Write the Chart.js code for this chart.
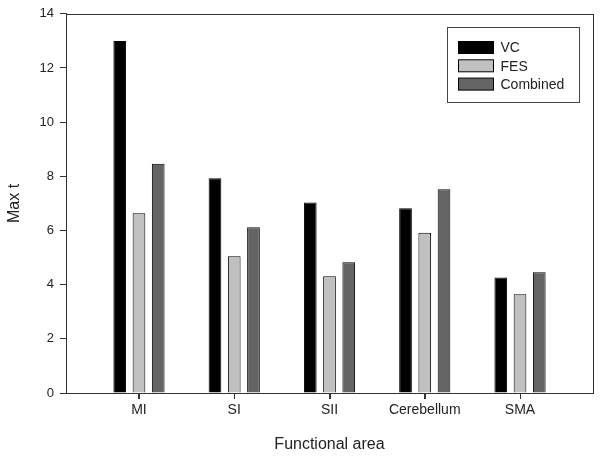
<!DOCTYPE html>
<html>
<head>
<meta charset="utf-8">
<script src="https://cdn.jsdelivr.net/npm/chart.js@4/dist/chart.umd.min.js"></script>
<style>
  html, body { margin: 0; padding: 0; background: #fff; }
  #wrap { width: 600px; height: 457px; }
</style>
</head>
<body>
<div id="wrap"><canvas id="chart" width="600" height="457"></canvas></div>
<script>
const categories = ["MI", "SI", "SII", "Cerebellum", "SMA"]
const vcValues = [13.0, 7.93, 7.03, 6.82, 4.26]
const fesValues = [6.64, 5.05, 4.31, 5.92, 3.65]
const combinedValues = [8.46, 6.12, 4.83, 7.52, 4.46]
const yTicks = [0, 2, 4, 6, 8, 10, 12, 14]

const FONT = "'Liberation Sans', Arial, sans-serif"
const INK = "#222"
const AXIS = "#333"

function points(values) {
    return values.map((v, i) => ({ x: i + 1, y: v }))
}

// box round the plot area, x tick marks, legend in the top right corner
const framePlugin = {
    id: "frame",
    afterDraw(chart) {
        const { ctx, chartArea: a } = chart
        ctx.save()
        ctx.strokeStyle = AXIS
        ctx.lineWidth = 1
        ctx.strokeRect(Math.round(a.left) + 0.5, Math.round(a.top) + 0.5,
            Math.round(a.right - a.left), Math.round(a.bottom - a.top))

        const xs = chart.scales.x
        ctx.beginPath()
        xs.ticks.forEach((t, i) => {
            const px = Math.round(xs.getPixelForTick(i)) + 0.5
            ctx.moveTo(px, Math.round(a.bottom))
            ctx.lineTo(px, Math.round(a.bottom) + 6)
        })
        ctx.stroke()

        const boxW = 132, boxH = 75
        const bx = Math.round(a.right - 14 - boxW) + 0.5
        const by = Math.round(a.top + 13) + 0.5
        ctx.fillStyle = "#fff"
        ctx.fillRect(bx, by, boxW, boxH)
        ctx.strokeStyle = "#444"
        ctx.strokeRect(bx, by, boxW, boxH)

        ctx.font = "14px " + FONT
        ctx.textBaseline = "middle"
        chart.data.datasets.forEach((ds, i) => {
            const cy = by + 20 + i * 18.3
            ctx.fillStyle = ds.backgroundColor
            ctx.fillRect(bx + 11, cy - 6, 35, 12)
            ctx.strokeStyle = "#000"
            ctx.strokeRect(bx + 11, cy - 6, 35, 12)
            ctx.fillStyle = INK
            ctx.fillText(ds.label, bx + 53, cy + 1)
        })
        ctx.restore()
    }
}

const barStyle = {
    borderColor: "#000",
    borderWidth: 1,
    categoryPercentage: 0.606,
    barPercentage: 0.66
}

new Chart(document.getElementById("chart"), {
    type: "bar",
    data: {
        datasets: [
            { label: "VC", data: points(vcValues), backgroundColor: "#000000", ...barStyle },
            { label: "FES", data: points(fesValues), backgroundColor: "#c0c0c0", ...barStyle },
            { label: "Combined", data: points(combinedValues), backgroundColor: "#646464", ...barStyle }
        ]
    },
    options: {
        responsive: false,
        animation: false,
        layout: { padding: { top: 13, right: 7, left: 0, bottom: 0 } },
        plugins: {
            legend: { display: false },
            tooltip: { enabled: false }
        },
        scales: {
            x: {
                type: "linear",
                min: 0.234,
                max: 5.766,
                offset: false,
                afterBuildTicks: s => { s.ticks = categories.map((c, i) => ({ value: i + 1 })) },
                afterFit: s => { s.height = 64 },
                ticks: {
                    color: INK,
                    font: { family: FONT, size: 14 },
                    padding: 3,
                    maxRotation: 0,
                    autoSkip: false,
                    callback: v => categories[v - 1] || ""
                },
                grid: { offset: false, drawOnChartArea: false, tickLength: 6, color: AXIS },
                border: { color: AXIS },
                title: {
                    display: true,
                    text: "Functional area",
                    color: INK,
                    font: { family: FONT, size: 16 },
                    padding: { top: 0, bottom: 3 }
                }
            },
            y: {
                min: 0,
                max: 14,
                afterBuildTicks: s => { s.ticks = yTicks.map(v => ({ value: v })) },
                afterFit: s => { s.width = 66 },
                ticks: {
                    color: INK,
                    font: { family: FONT, size: 13 },
                    padding: 6
                },
                grid: { drawOnChartArea: false, tickLength: 6, color: AXIS },
                border: { color: AXIS },
                title: {
                    display: true,
                    text: "Max t",
                    color: INK,
                    font: { family: FONT, size: 16 },
                    padding: { top: 5, bottom: 0 }
                }
            }
        }
    },
    plugins: [framePlugin]
})
</script>
</body>
</html>
